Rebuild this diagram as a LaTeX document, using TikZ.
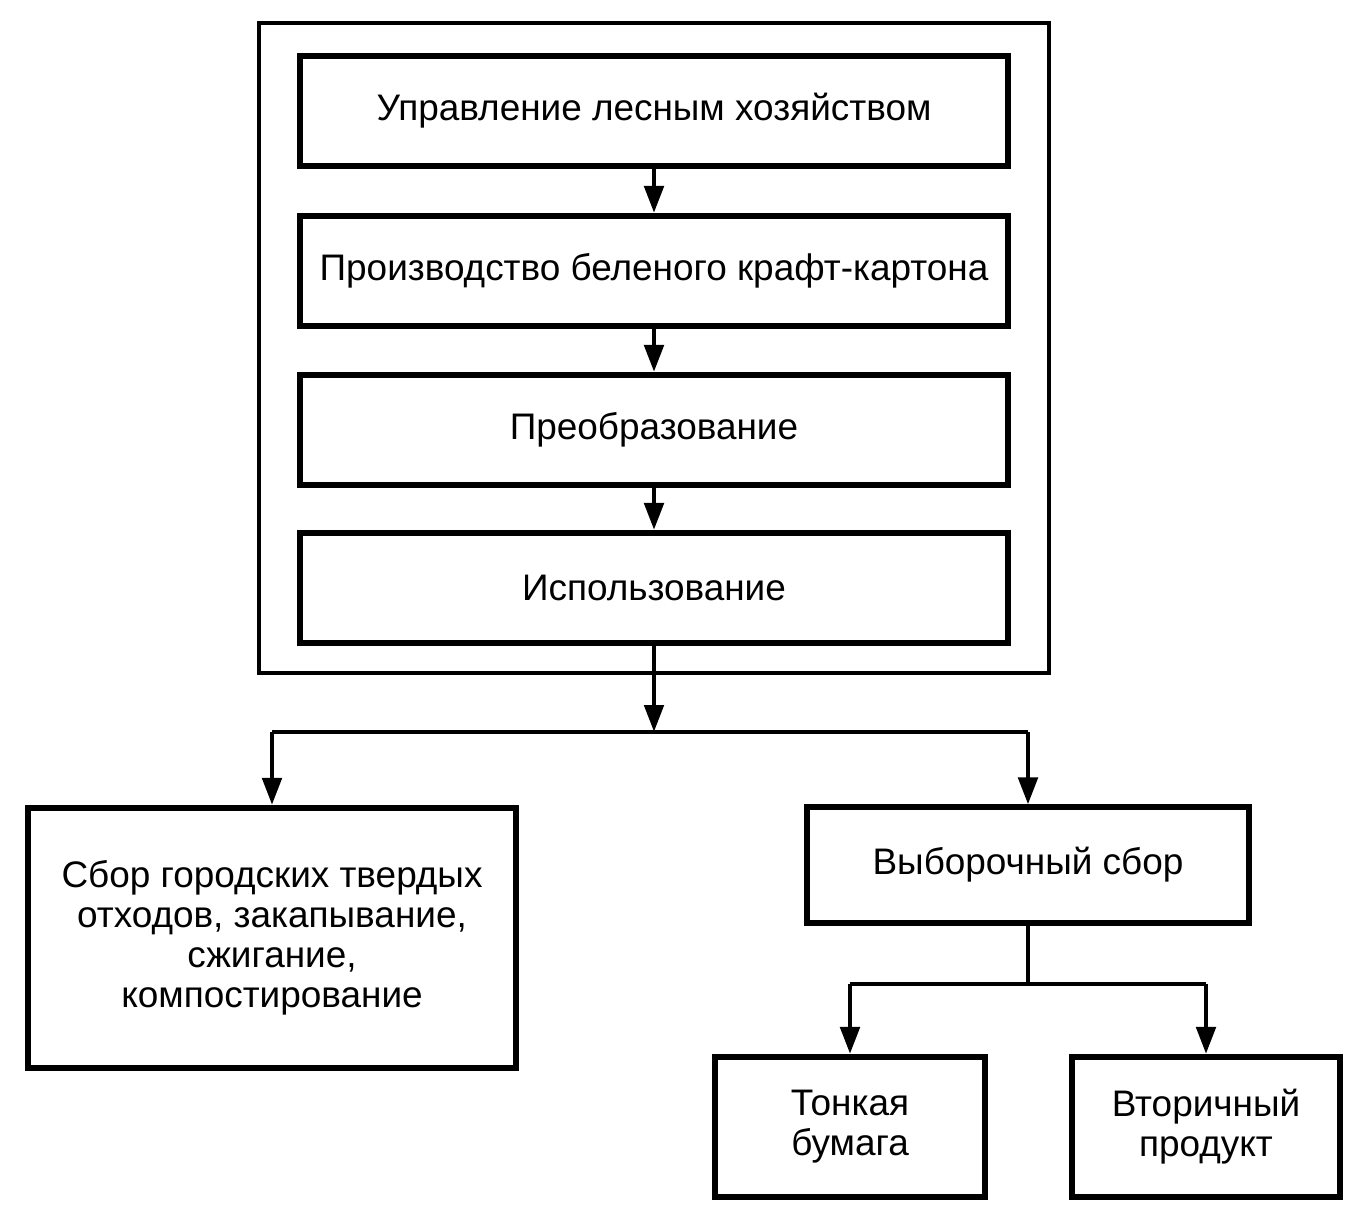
\documentclass[tikz,border=0pt]{standalone}
\usepackage{fontspec}
\setmainfont{Liberation Sans}
\usepackage{tikz}
\usetikzlibrary{arrows.meta}

\begin{document}
\begin{tikzpicture}[x=0.01cm,y=-0.01cm]
\useasboundingbox (0,0) rectangle (1360,1226);
\fontsize{10.5}{11.4}\selectfont

% outer frame
\draw[line width=1.2pt] (259,23) rectangle (1049,673);

\begin{scope}[every node/.style={rectangle,draw,line width=1.7pt,align=center}]
    \node[minimum width=7.08cm,minimum height=1.1cm] (forest) at (654,111) {Управление лесным хозяйством};
    \node[minimum width=7.08cm,minimum height=1.1cm] (kraft) at (654,271) {Производство беленого крафт-картона};
    \node[minimum width=7.08cm,minimum height=1.1cm] (conv) at (654,430) {Преобразование};
    \node[minimum width=7.08cm,minimum height=1.1cm] (use) at (654,588) {Использование};

    \node[minimum width=4.88cm,minimum height=2.6cm] (waste) at (272,938) {Сбор городских твердых\\отходов, закапывание,\\сжигание,\\компостирование};
    \node[minimum width=4.41cm,minimum height=1.15cm] (sel) at (1028,865) {Выборочный сбор};
    \node[minimum width=2.69cm,minimum height=1.4cm] (tissue) at (850,1127) {Тонкая\\бумага};
    \node[minimum width=2.67cm,minimum height=1.4cm] (second) at (1206,1127) {Вторичный\\продукт};
    \end{scope}

\coordinate (jl) at (272,732);
\coordinate (jr) at (1028,732);
\coordinate (sl) at (850,984);
\coordinate (sr) at (1206,984);

\begin{scope}[>={Triangle[length=0.27cm,width=0.19cm]},
              every edge/.style={draw=black,line width=1.4pt}]
    \path [->] (forest) edge (kraft);
    \path [->] (kraft) edge (conv);
    \path [->] (conv) edge (use);
    \path [->] (use) edge (use |- jl);
    \draw[line width=1.4pt] (jl) -- (jr);
    \path [->] (jl) edge (waste);
    \path [->] (jr) edge (sel);
    \draw[line width=1.4pt] (sel) -- (sel |- sl);
    \draw[line width=1.4pt] (sl) -- (sr);
    \path [->] (sl) edge (tissue);
    \path [->] (sr) edge (second);
    \end{scope}

\end{tikzpicture}
\end{document}
